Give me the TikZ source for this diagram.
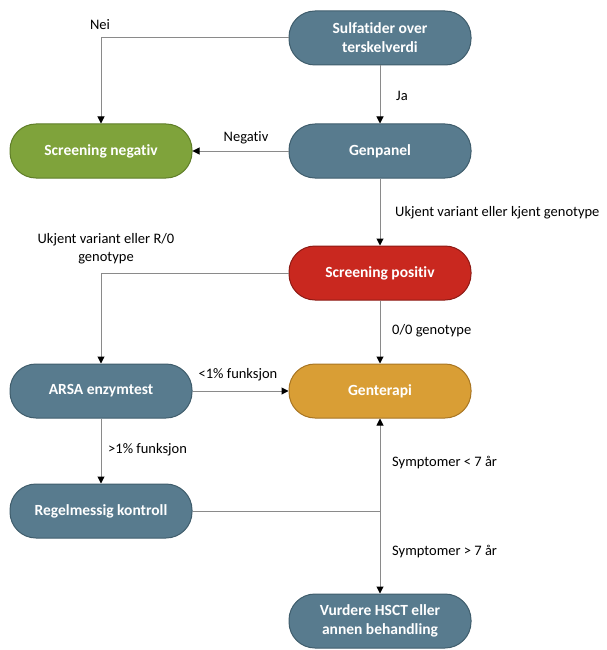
\documentclass[tikz,border=0pt]{standalone}
\usepackage{fontspec}
\setmainfont{Carlito}[Ligatures={NoCommon}]
\usetikzlibrary{arrows.meta}
\definecolor{slate}{HTML}{587B8E}
\definecolor{slateD}{HTML}{3F5D6C}
\definecolor{leaf}{HTML}{7FA33B}
\definecolor{leafD}{HTML}{5F7E28}
\definecolor{fire}{HTML}{C9281F}
\definecolor{fireD}{HTML}{8E1A14}
\definecolor{gold}{HTML}{D99E35}
\definecolor{goldD}{HTML}{A87522}
\definecolor{wire}{HTML}{8A8A8A}
\tikzset{
  pill/.style={rectangle, rounded corners=26pt, minimum width=182pt, minimum height=54pt,
    line width=1pt, text=white, font=\fontsize{15.5}{19}\selectfont\bfseries, align=center, inner sep=2pt},
  bluepill/.style={pill, fill=slate, draw=slateD},
  greenpill/.style={pill, fill=leaf, draw=leafD},
  redpill/.style={pill, fill=fire, draw=fireD},
  goldpill/.style={pill, fill=gold, draw=goldD},
  lbl/.style={font=\fontsize{14.5}{18}\selectfont, text=black, inner sep=1pt, align=center},
  conn/.style={draw=wire, line width=1pt},
  arr/.style={conn, -{Triangle[length=7pt,width=7pt,color=black]}},
}
\begin{document}
\begin{tikzpicture}[x=1pt,y=-1pt]
\useasboundingbox (0,0) rectangle (606,650);
\fill[white] (0,0) rectangle (606,650);
% nodes
\node[bluepill] (sulf) at (380,38) {Sulfatider over\\terskelverdi};
\node[greenpill] (neg) at (101,151) {Screening negativ};
\node[bluepill] (gen) at (380,151) {Genpanel};
\node[redpill] (pos) at (380,273) {Screening positiv};
\node[bluepill] (arsa) at (101,391) {ARSA enzymtest};
\node[goldpill] (gt) at (380,391) {Genterapi};
\node[bluepill] (reg) at (101,511) {Regelmessig kontroll};
\node[bluepill] (hsct) at (380,621) {Vurdere HSCT eller\\annen behandling};
\coordinate (jn) at (gen.south |- reg.east);
% connectors
\draw[arr] (sulf.west) -| (neg.north);
\draw[arr] (sulf.south) -- (gen.north);
\draw[arr] (gen.west) -- (neg.east);
\draw[arr] (gen.south) -- (pos.north);
\draw[arr] (pos.west) -| (arsa.north);
\draw[arr] (pos.south) -- (gt.north);
\draw[arr] (arsa.east) -- (gt.west);
\draw[arr] (arsa.south) -- (reg.north);
\draw[conn] (reg.east) -- (jn);
\draw[arr] (jn) -- (gt.south);
\draw[arr] (jn) -- (hsct.north);
% labels
\node[lbl] (lnei) at (100,25) {Nei};
\node[lbl] (lja) at (402,96) {Ja};
\node[lbl] (lneg) at (246,138) {Negativ};
\node[lbl, anchor=west] (lukj) at (394,213) {Ukjent variant eller kjent genotype};
\node[lbl] (lr0) at (106,249) {Ukjent variant eller R/0\\genotype};
\node[lbl, anchor=west] (l00) at (391,331) {0/0 genotype};
\node[lbl] (llt) at (238,375) {<1\% funksjon};
\node[lbl, anchor=west] (lgt) at (107,450) {>1\% funksjon};
\node[lbl, anchor=west] (ls7) at (391,463) {Symptomer < 7 år};
\node[lbl, anchor=west] (lg7) at (391,552) {Symptomer > 7 år};
\end{tikzpicture}
\end{document}
